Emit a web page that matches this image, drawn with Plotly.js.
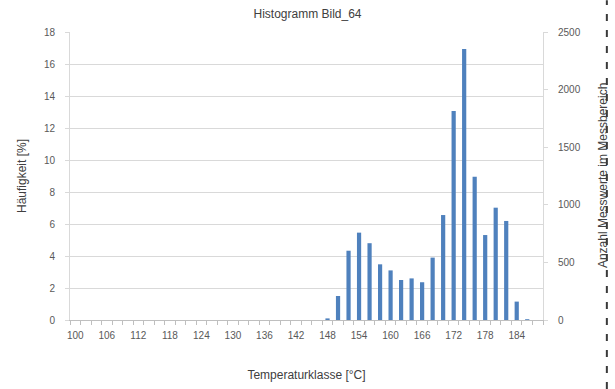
<!DOCTYPE html>
<html>
<head>
<meta charset="utf-8">
<script src="https://cdn.plot.ly/plotly-3.0.1.min.js"></script>
<style>html,body{margin:0;padding:0;background:#fff;}#chart{width:615px;height:389px;}</style>
</head>
<body>
<div id="chart"></div>
<script>
// Temperature classes [°C]
const classes = [100,102,104,106,108,110,112,114,116,118,120,122,124,126,128,130,132,134,136,138,140,142,144,146,
                 148,150,152,154,156,158,160,162,164,166,168,170,172,174,176,178,180,182,184,186,188];
// Frequency [%]
const percent = [0,0,0,0,0,0,0,0,0,0,0,0,0,0,0,0,0,0,0,0,0,0,0,0,
                 0.1,1.5,4.33,5.46,4.8,3.48,3.1,2.5,2.6,2.36,3.9,6.56,13.06,16.94,8.96,5.31,7.02,6.19,1.15,0.05,0];
const xTickLabels = [100,106,112,118,124,130,136,142,148,154,160,166,172,178,184];
const leftTicks = [0,2,4,6,8,10,12,14,16,18];
const rightTicks = [0,500,1000,1500,2000,2500];

const fontFam = '"Liberation Sans", Arial, sans-serif';
const tickFont = {family: fontFam, size: 10, color: '#595959'};

const traces = [
  {type: 'bar', x: classes, y: percent, marker: {color: '#4F81BD'}, hoverinfo: 'x+y', showlegend: false},
  {type: 'scatter', x: [classes[0]], y: [null], yaxis: 'y2', mode: 'markers', showlegend: false, hoverinfo: 'skip'}
];

const layout = {
  width: 615, height: 389,
  margin: {l: 70, r: 72, t: 32, b: 69},
  paper_bgcolor: '#fff', plot_bgcolor: '#fff',
  bargap: 0.6,
  title: {text: 'Histogramm Bild_64', font: {family: fontFam, size: 12, color: '#404040'}, x: 0.5, xanchor: 'center', y: 0.965, yanchor: 'middle'},
  xaxis: {
    range: [99, 189], tickvals: xTickLabels, ticktext: xTickLabels.map(String),
    ticks: '', showgrid: false, zeroline: false,
    showline: true, linecolor: '#bfbfbf', linewidth: 1,
    minor: {ticks: 'outside', ticklen: 4, tickcolor: '#bfbfbf', dtick: 2, tick0: 99, showgrid: false},
    tickfont: tickFont, ticklabelstandoff: 6,
    title: {text: 'Temperaturklasse [°C]', font: {family: fontFam, size: 12, color: '#404040'}, standoff: 30}
  },
  yaxis: {
    range: [0, 18], tickvals: leftTicks, ticks: 'outside', ticklen: 4, tickcolor: '#d9d9d9',
    showgrid: true, gridcolor: '#d9d9d9', zeroline: false,
    showline: true, linecolor: '#d9d9d9',
    tickfont: tickFont, ticklabelstandoff: 8,
    title: {text: 'Häufigkeit [%]', font: {family: fontFam, size: 12, color: '#404040'}, standoff: 14}
  },
  yaxis2: {
    range: [0, 2500], tickvals: rightTicks, overlaying: 'y', side: 'right',
    ticks: 'outside', ticklen: 4, tickcolor: '#d9d9d9',
    showgrid: false, zeroline: false, showline: true, linecolor: '#d9d9d9',
    tickfont: tickFont, ticklabelstandoff: 8
  },
  shapes: [
    {type: 'line', xref: 'paper', yref: 'paper', x0: 1.135, x1: 1.135, y0: -0.24, y1: 1.11,
     line: {color: '#3a3a3a', width: 2, dash: '7px,9px'}}
  ],
  annotations: [
    {xref: 'paper', yref: 'paper', x: 1.127, y: 0.5, xanchor: 'center', yanchor: 'middle',
     text: 'Anzahl Messwerte im Messbereich', textangle: -90, showarrow: false,
     font: {family: fontFam, size: 12, color: '#404040'}}
  ]
};

Plotly.newPlot('chart', traces, layout, {displayModeBar: false, staticPlot: true});
</script>
</body>
</html>
